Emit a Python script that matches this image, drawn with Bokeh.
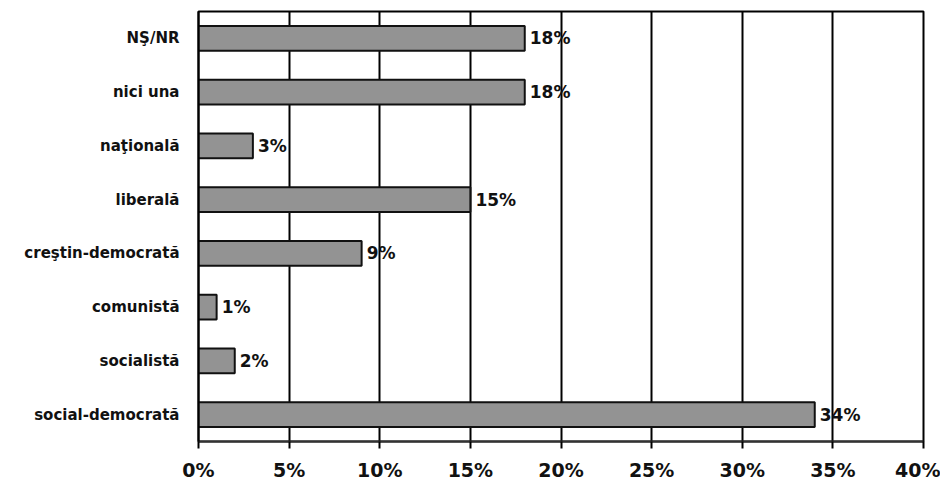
from bokeh.plotting import figure
from bokeh.models import ColumnDataSource, FactorRange, Range1d, FixedTicker, CustomJSTickFormatter
from bokeh.core.properties import value
from bokeh.embed import file_html
from bokeh.resources import INLINE

categories = ["social-democrată", "socialistă", "comunistă", "creştin-democrată",
              "liberală", "naţională", "nici una", "NŞ/NR"]
percents = [34, 2, 1, 9, 15, 3, 18, 18]
x_ticks = [0, 5, 10, 15, 20, 25, 30, 35, 40]

labels = [f"{v}%" for v in percents]
src = ColumnDataSource(dict(cat=categories, val=percents, lab=labels))

p = figure(width=940, height=483, output_backend="svg", toolbar_location=None,
           y_range=FactorRange(factors=categories), x_range=Range1d(0, 40),
           min_border_left=198, min_border_right=17, min_border_top=11, min_border_bottom=40)

p.hbar(y="cat", right="val", left=0, height=0.46, source=src,
       fill_color="#939393", line_color="#111111", line_width=2)

p.text(x="val", y="cat", text="lab", source=src, x_offset=5,
       text_baseline="middle", text_align="left",
       text_font=value("DejaVu Sans"), text_font_style="bold",
       text_font_size="17px", text_color="#111111")

p.xaxis.ticker = FixedTicker(ticks=x_ticks)
p.xaxis.formatter = CustomJSTickFormatter(code="return tick + '%';")
p.xaxis.major_label_text_font = "DejaVu Sans"
p.xaxis.major_label_text_font_style = "bold"
p.xaxis.major_label_text_font_size = "19px"
p.xaxis.major_label_text_color = "#111111"
p.xaxis.major_label_standoff = 10
p.xaxis.major_tick_out = 7
p.xaxis.major_tick_in = 0
p.xaxis.minor_tick_line_color = None
p.xaxis.major_tick_line_color = "black"
p.xaxis.major_tick_line_width = 2
p.xaxis.axis_line_color = "#333333"
p.xaxis.axis_line_width = 2

p.yaxis.major_label_text_font = "DejaVu Sans"
p.yaxis.major_label_text_font_style = "bold"
p.yaxis.major_label_text_font_size = "15px"
p.yaxis.major_label_text_color = "#111111"
p.yaxis.major_label_standoff = 13
p.yaxis.major_tick_line_color = None
p.yaxis.axis_line_color = "black"
p.yaxis.axis_line_width = 2

p.xgrid.grid_line_color = "black"
p.xgrid.grid_line_width = 2
p.xgrid.grid_line_alpha = 1
p.ygrid.grid_line_color = None

p.outline_line_color = "black"
p.outline_line_width = 2
p.outline_line_alpha = 1
p.background_fill_color = "white"
p.border_fill_color = "white"

open("out.html", "w").write(file_html(p, INLINE))
